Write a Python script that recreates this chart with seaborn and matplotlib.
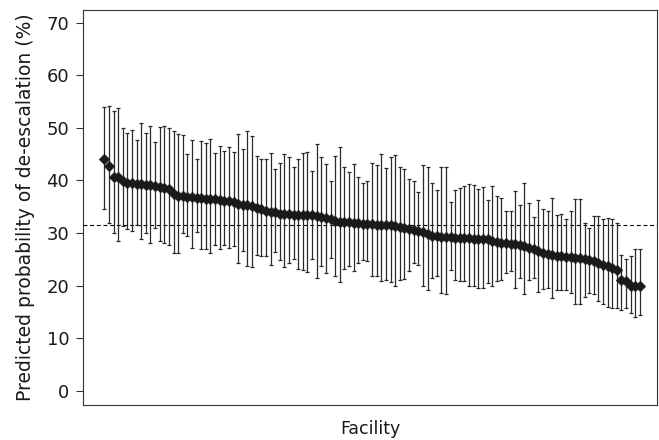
import matplotlib
matplotlib.use("Agg")
import matplotlib.pyplot as plt
import seaborn as sns
import numpy as np
import pandas as pd

# Predicted probability (%) per facility, sorted descending
means = [
    44.0, 42.8, 40.7, 40.7, 39.9, 39.6, 39.5, 39.3, 39.3, 39.1, 39.1, 38.9, 38.8, 38.6, 38.4, 37.4, 37.0,
    37.0, 36.9, 36.8, 36.7, 36.7, 36.5, 36.4, 36.4, 36.3, 36.1, 36.1, 35.9, 35.6, 35.4, 35.3, 35.1,
    34.8, 34.5, 34.2, 34.0, 33.9, 33.7, 33.7, 33.7, 33.5, 33.5, 33.4, 33.4, 33.4, 33.2, 33.1, 32.9, 32.6,
    32.3, 32.1, 32.1, 32.1, 31.9, 31.9, 31.8, 31.8, 31.8, 31.6, 31.6, 31.5, 31.5, 31.3, 31.2, 31.0, 30.7,
    30.6, 30.4, 30.2, 29.8, 29.5, 29.4, 29.3, 29.2, 29.2, 29.1, 29.1, 29.0, 29.0, 28.9, 28.9, 28.8, 28.8,
    28.4, 28.3, 28.1, 28.0, 27.9, 27.9, 27.8, 27.6, 27.2, 26.9, 26.5, 26.2, 26.0, 25.9, 25.7, 25.6, 25.5,
    25.5, 25.3, 25.3, 25.0, 24.8, 24.6, 24.2, 24.0, 23.7, 23.4, 22.9, 21.1, 20.8, 20.0, 19.9, 19.9,
]
upper = [
    53.9, 54.2, 53.3, 53.8, 49.9, 49.0, 49.6, 47.7, 51.0, 49.0, 50.4, 47.4, 50.1, 50.4, 50.0, 49.4, 48.8,
    48.6, 45.0, 47.7, 44.0, 47.5, 47.2, 47.9, 45.3, 46.6, 45.6, 46.3, 45.4, 48.8, 45.9, 49.4, 48.5,
    44.7, 44.0, 44.0, 45.3, 42.1, 43.4, 45.0, 44.4, 42.6, 44.0, 45.3, 45.4, 41.8, 46.9, 44.4, 43.1, 39.9,
    44.7, 46.3, 42.6, 41.6, 43.1, 40.7, 39.6, 39.9, 43.3, 42.9, 45.0, 42.4, 44.4, 44.9, 42.6, 42.1, 40.3,
    39.9, 37.8, 42.9, 42.6, 39.5, 38.2, 42.6, 42.6, 35.9, 38.2, 38.6, 38.9, 39.3, 39.1, 38.3, 38.8, 36.3,
    38.9, 37.0, 36.7, 34.2, 34.2, 38.0, 35.4, 39.6, 35.8, 33.1, 36.3, 34.5, 34.2, 36.7, 33.5, 33.7, 32.6,
    34.2, 36.4, 36.5, 31.9, 31.0, 33.2, 33.2, 32.7, 32.9, 32.7, 31.9, 25.9, 25.1, 25.6, 27.0, 27.0,
]
lower = [
    34.5, 31.9, 30.0, 28.5, 31.3, 30.7, 30.4, 31.6, 28.8, 30.0, 28.1, 31.0, 28.5, 28.1, 27.8, 26.2, 26.2,
    30.0, 29.5, 27.2, 30.2, 26.9, 27.0, 26.2, 27.8, 26.9, 27.8, 27.2, 27.5, 24.3, 26.5, 23.7, 23.5,
    25.9, 25.6, 25.6, 24.0, 26.3, 24.9, 23.5, 24.3, 25.1, 23.2, 23.0, 22.5, 25.1, 21.4, 23.7, 22.4, 25.3,
    21.9, 20.6, 23.2, 23.8, 22.7, 24.3, 24.9, 24.6, 21.8, 21.8, 20.8, 21.1, 20.6, 20.0, 21.1, 21.3, 22.7,
    24.3, 24.0, 19.9, 19.2, 21.5, 21.9, 18.6, 18.3, 23.0, 21.1, 20.8, 20.8, 19.9, 19.9, 19.5, 19.5, 20.5,
    19.9, 20.8, 21.1, 22.4, 22.7, 19.5, 21.4, 18.3, 21.1, 21.4, 18.7, 19.4, 19.5, 17.6, 19.2, 19.1, 19.2,
    18.6, 16.4, 16.4, 17.8, 18.6, 18.3, 17.0, 16.4, 16.0, 15.7, 15.7, 15.4, 15.7, 14.8, 14.1, 14.4,
]
overall_mean = 31.5
y_ticks = [0, 10, 20, 30, 40, 50, 60, 70]

n = len(means)
df = pd.DataFrame({
    "facility": np.arange(n),
    "prob": means,
    "lo": lower,
    "hi": upper,
})

sns.set_theme(style="ticks")
plt.rcParams["font.family"] = ["DejaVu Sans"]
plt.rcParams["text.color"] = "#1a1a1a"
plt.rcParams["axes.labelcolor"] = "#1a1a1a"
plt.rcParams["ytick.labelcolor"] = "#1a1a1a"

fig = plt.figure(figsize=(6.59, 4.40), dpi=100)
ax = fig.add_axes([0.126, 0.080, 0.871, 0.898])

yerr = np.vstack([df["prob"] - df["lo"], df["hi"] - df["prob"]])
ax.errorbar(df["facility"], df["prob"], yerr=yerr, fmt="none",
            ecolor="#2a2a2a", elinewidth=0.9, capsize=1.4, capthick=0.9, zorder=2)
sns.scatterplot(data=df, x="facility", y="prob", marker="D", s=30,
                color="#1a1a1a", edgecolor="#1a1a1a", linewidth=0.3, ax=ax, zorder=3)

ax.axhline(overall_mean, color="black", linestyle=(0, (3.5, 2.5)), linewidth=0.8, zorder=1)

ax.set_xlim(-4.6, n - 1 + 3.7)
ax.set_ylim(-2.7, 72.5)
ax.set_yticks(y_ticks)
ax.set_xticks([])
ax.set_xlabel("Facility", fontsize=12.5, labelpad=11)
ax.set_ylabel("Predicted probability of de-escalation (%)", fontsize=13.5, labelpad=8)
ax.tick_params(axis="y", labelsize=13, length=5, width=0.8, color="#333333", pad=5)

for s in ax.spines.values():
    s.set_visible(True)
    s.set_linewidth(0.8)
    s.set_color("#333333")

fig.savefig("out.png", dpi=100)
